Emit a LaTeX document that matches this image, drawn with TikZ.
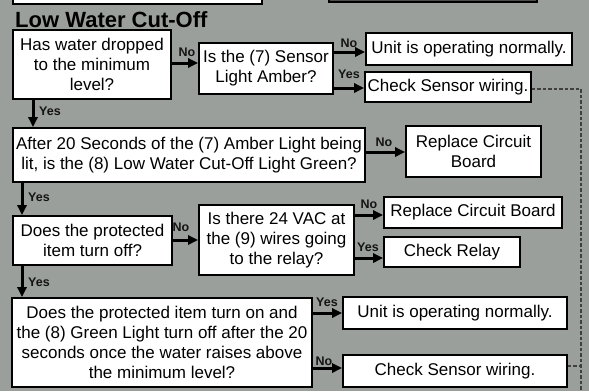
\documentclass[tikz,border=0pt]{standalone}
\usepackage{fontspec}
\setmainfont{Liberation Sans}
\usetikzlibrary{arrows.meta}
\definecolor{bg}{RGB}{155,159,156}
\definecolor{lbl}{RGB}{20,20,20}
\tikzset{
  box/.style={draw=black, line width=1.6pt, fill=white, inner sep=1pt, align=center,
    font=\fontsize{17}{20}\selectfont, text=black},
  arr/.style={line width=3pt, -{Triangle[length=10pt,width=9pt]}},
  lab/.style={font=\bfseries\fontsize{12.5}{12.5}\selectfont, text=lbl, inner sep=0pt},
  dashln/.style={line width=2.2pt, dash pattern=on 3.5pt off 2pt, draw=black!75}
}
\begin{document}
\begin{tikzpicture}[x=1pt,y=-1pt]
\useasboundingbox (0,0) rectangle (589,391);
\fill[bg] (0,0) rectangle (589,391);
\clip (0,0) rectangle (589,391);
% partial boxes at top
\node[box, minimum width=249pt, minimum height=30pt] (topL) at (137.5,-11) {};
\node[draw=black, line width=1.6pt, fill=black!70, minimum width=208pt, minimum height=20pt, inner sep=0pt] (topR) at (433,-8) {};
% title
\node[anchor=base west, font=\bfseries\fontsize{22}{22}\selectfont, inner sep=0pt] (title) at (15,27.5) {Low Water Cut-Off};
% boxes
\node[box, minimum width=158pt, minimum height=69pt] (b1) at (92,64.5) {Has water dropped\\to the minimum\\level?};
\node[box, minimum width=134pt, minimum height=51pt] (b2) at (266,68.5) {Is the (7) Sensor\\Light Amber?};
\node[box, minimum width=206pt, minimum height=32pt] (b3) at (469,49) {Unit is operating normally.};
\node[box, minimum width=166pt, minimum height=30pt] (b4) at (448,87) {Check Sensor wiring.};
\node[box, minimum width=352pt, minimum height=54pt] (b5) at (189,155) {After 20 Seconds of the (7) Amber Light being\\lit, is the (8) Low Water Cut-Off Light Green?};
\node[box, minimum width=135pt, minimum height=51pt] (b6) at (473.5,151.5) {Replace Circuit\\Board};
\node[box, minimum width=159pt, minimum height=49pt] (b7) at (92.5,240.5) {Does the protected\\item turn off?};
\node[box, minimum width=155pt, minimum height=70pt] (b8) at (276.5,240) {Is there 24 VAC at\\the (9) wires going\\to the relay?};
\node[box, minimum width=178pt, minimum height=31pt] (b9) at (473,212.5) {Replace Circuit Board};
\node[box, minimum width=136pt, minimum height=30pt] (b10) at (452,252) {Check Relay};
\node[box, minimum width=300pt, minimum height=89pt] (b11) at (162,342.5) {Does the protected item turn on and\\the (8) Green Light turn off after the 20\\seconds once the water raises above\\the minimum level?};
\node[box, minimum width=224pt, minimum height=32pt] (b12) at (455,313) {Unit is operating normally.};
\node[box, minimum width=224pt, minimum height=32pt] (b13) at (455,371) {Check Sensor wiring.};
% arrows
\draw[arr] (b1.east |- 0,63) -- (b2.west |- 0,63);
\draw[arr] (b2.east |- 0,52) -- (b3.west |- 0,52);
\draw[arr] (b2.east |- 0,88) -- (b4.west |- 0,88);
\draw[arr] (b1.south -| 33,0) -- (b5.north -| 33,0);
\draw[arr] (b5.east |- 0,152) -- (b6.west |- 0,152);
\draw[arr] (b5.south -| 22,0) -- (b7.north -| 22,0);
\draw[arr] (b7.east |- 0,240) -- (b8.west |- 0,240);
\draw[arr] (b8.east |- 0,215) -- (b9.west |- 0,215);
\draw[arr] (b8.east |- 0,258) -- (b10.west |- 0,258);
\draw[arr] (b7.south -| 22,0) -- (b11.north -| 22,0);
\draw[arr] (b11.east |- 0,313) -- (b12.west |- 0,313);
\draw[arr] (b11.east |- 0,368) -- (b13.west |- 0,368);
% dashed link
\coordinate (dtop) at (581,89);
\coordinate (dbot) at (581,395);
\draw[dashln] (b4.east |- dtop) -- (dtop) -- (dbot);
\draw[dashln] (b13.east |- 0,366) -- (581,366);
% labels
\node[lab] (l1) at (187,52) {No};
\node[lab] (l2) at (349,43.5) {No};
\node[lab] (l3) at (349,74) {Yes};
\node[lab] (l4) at (50,111) {Yes};
\node[lab] (l5) at (384,142.5) {No};
\node[lab] (l6) at (39,197.5) {Yes};
\node[lab] (l7) at (181,227.5) {No};
\node[lab] (l8) at (369,204) {No};
\node[lab] (l9) at (368,247) {Yes};
\node[lab] (l10) at (39,282.5) {Yes};
\node[lab] (l11) at (327,302.5) {Yes};
\node[lab] (l12) at (324,361) {No};
\end{tikzpicture}
\end{document}
